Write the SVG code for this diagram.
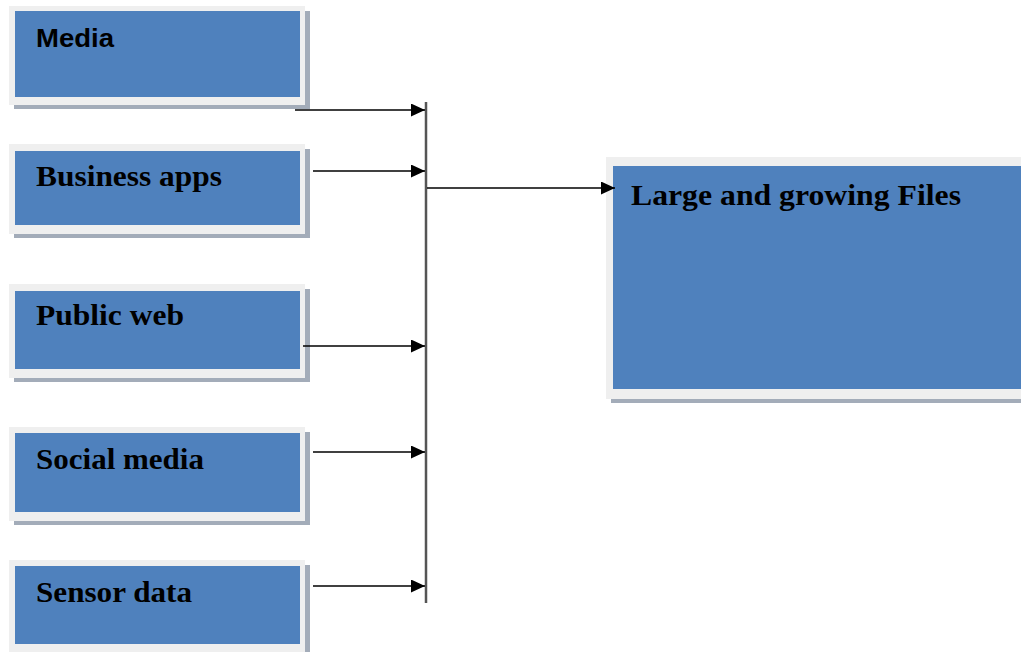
<svg xmlns="http://www.w3.org/2000/svg" width="1021" height="652" viewBox="0 0 1021 652">
<defs>
<marker id="ah" viewBox="0 0 14 13" refX="14" refY="6.5" markerWidth="14" markerHeight="13" markerUnits="userSpaceOnUse" orient="auto">
<path d="M0,0 L14,6.5 L0,13 Z" fill="#000"/>
</marker>
</defs>
<style>
.sh{fill:#a3acb9}
.fr{fill:#efefef}
.bl{fill:#4f81bd}
.sans{font-family:"Liberation Sans",Arial,sans-serif;font-weight:bold;font-size:26px;fill:#000}
.serif{font-family:"Liberation Serif","Times New Roman",serif;font-weight:bold;font-size:30px;fill:#000}
.ln{stroke:#000;stroke-width:1.6;fill:none}
.bus{stroke:#555;stroke-width:2.5;fill:none}
</style>
<rect width="1021" height="652" fill="#fff"/>
<g id="media">
<rect class="sh" x="14" y="11" width="296" height="98"/>
<rect class="fr" x="9" y="6" width="296" height="99"/>
<rect class="bl" x="15" y="11" width="285" height="86"/>
<text class="sans" x="36" y="47" textLength="78" lengthAdjust="spacingAndGlyphs">Media</text>
</g>
<g id="business-apps">
<rect class="sh" x="14" y="149" width="296" height="89"/>
<rect class="fr" x="9" y="144" width="296" height="90"/>
<rect class="bl" x="15" y="151" width="285" height="74"/>
<text class="serif" x="36" y="186" textLength="186" lengthAdjust="spacingAndGlyphs">Business apps</text>
</g>
<g id="public-web">
<rect class="sh" x="14" y="289" width="296" height="93"/>
<rect class="fr" x="9" y="284" width="296" height="94"/>
<rect class="bl" x="15" y="291" width="285" height="78"/>
<text class="serif" x="36" y="325" textLength="148" lengthAdjust="spacingAndGlyphs">Public web</text>
</g>
<g id="social-media">
<rect class="sh" x="14" y="432" width="296" height="93"/>
<rect class="fr" x="9" y="427" width="296" height="94"/>
<rect class="bl" x="15" y="433" width="285" height="79"/>
<text class="serif" x="36" y="469" textLength="168" lengthAdjust="spacingAndGlyphs">Social media</text>
</g>
<g id="sensor-data">
<rect class="sh" x="14" y="565" width="296" height="93"/>
<rect class="fr" x="9" y="560" width="296" height="94"/>
<rect class="bl" x="15" y="566" width="285" height="78"/>
<text class="serif" x="36" y="602" textLength="156" lengthAdjust="spacingAndGlyphs">Sensor data</text>
</g>
<g id="large-files">
<rect class="sh" x="611" y="162" width="420" height="241"/>
<rect class="fr" x="606" y="157" width="420" height="242"/>
<rect class="bl" x="613" y="166" width="420" height="223"/>
<text class="serif" x="631" y="205" textLength="330" lengthAdjust="spacingAndGlyphs">Large and growing Files</text>
</g>
<g id="connectors">
<line class="bus" x1="426" y1="102" x2="426" y2="603"/>
<line class="ln" x1="295" y1="110" x2="425" y2="110" marker-end="url(#ah)"/>
<line class="ln" x1="313" y1="171" x2="425" y2="171" marker-end="url(#ah)"/>
<line class="ln" x1="303" y1="346" x2="425" y2="346" marker-end="url(#ah)"/>
<line class="ln" x1="313" y1="452" x2="425" y2="452" marker-end="url(#ah)"/>
<line class="ln" x1="313" y1="586" x2="425" y2="586" marker-end="url(#ah)"/>
<line class="ln" x1="427" y1="188" x2="615" y2="188" marker-end="url(#ah)"/>
</g>
</svg>
